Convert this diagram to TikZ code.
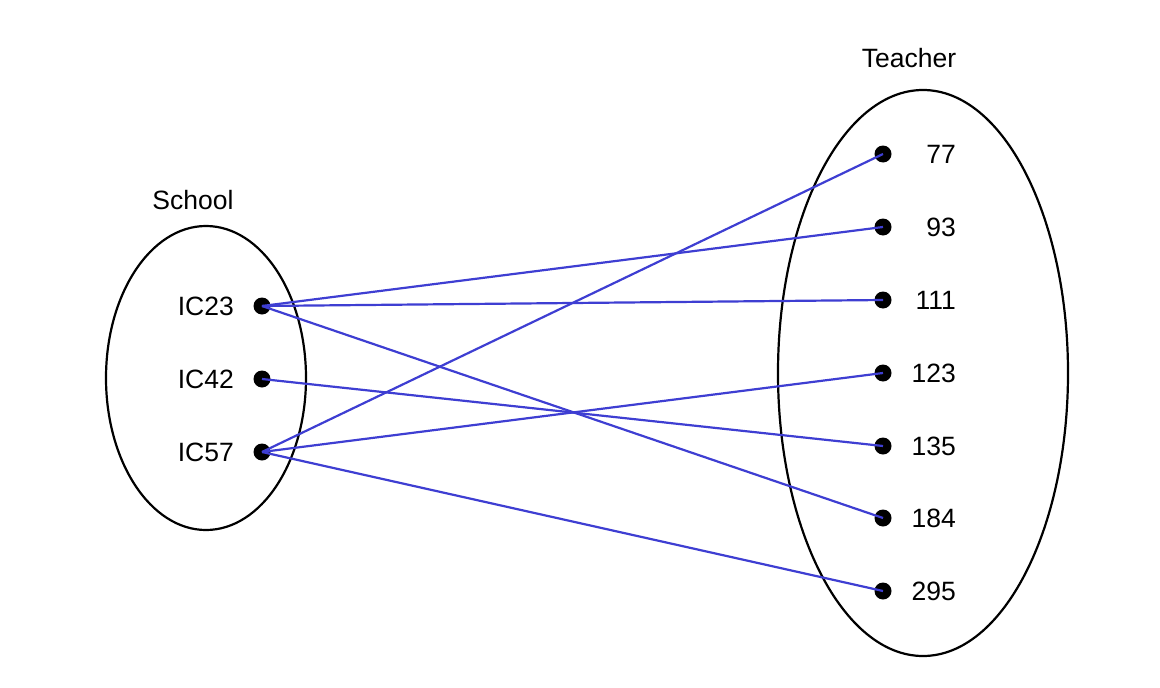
\documentclass[tikz,border=0pt]{standalone}
\usepackage{fontspec}
\setmainfont{Liberation Sans}
\definecolor{edgeblue}{RGB}{62,62,210}
\begin{document}
\begin{tikzpicture}[x=1pt,y=-1pt,
  setell/.style={draw=black,line width=2.2pt},
  dotnode/.style={circle,fill=black,minimum size=17pt,inner sep=0pt},
  lbl/.style={inner sep=0pt,font=\fontsize{26.5pt}{31pt}\selectfont},
  edge/.style={draw=edgeblue,line width=2.2pt}]
\useasboundingbox (0,0) rectangle (1160,688);
% sets
\draw[setell] (206,378) ellipse [x radius=100, y radius=152];
\draw[setell] (923,373) ellipse [x radius=145, y radius=283];
\node[lbl] (school) at (193,200) {School};
\node[lbl] (teacher) at (909,58) {Teacher};
% left
\node[dotnode] (d23) at (262,306) {};
\node[dotnode] (d42) at (262,379) {};
\node[dotnode] (d57) at (262,452) {};
\node[lbl,anchor=east] (l23) at (234,306) {IC23};
\node[lbl,anchor=east] (l42) at (234,379) {IC42};
\node[lbl,anchor=east] (l57) at (234,452) {IC57};
% right
\node[dotnode] (t77) at (883,154) {};
\node[dotnode] (t93) at (883,227) {};
\node[dotnode] (t111) at (883,300) {};
\node[dotnode] (t123) at (883,373) {};
\node[dotnode] (t135) at (883,446) {};
\node[dotnode] (t184) at (883,518) {};
\node[dotnode] (t295) at (883,591) {};
\node[lbl,anchor=east] (n77) at (956,154) {77};
\node[lbl,anchor=east] (n93) at (956,227) {93};
\node[lbl,anchor=east] (n111) at (956,300) {111};
\node[lbl,anchor=east] (n123) at (956,373) {123};
\node[lbl,anchor=east] (n135) at (956,446) {135};
\node[lbl,anchor=east] (n184) at (956,518) {184};
\node[lbl,anchor=east] (n295) at (956,591) {295};
% edges
\draw[edge] (d23.center) -- (t93.center);
\draw[edge] (d23.center) -- (t111.center);
\draw[edge] (d23.center) -- (t184.center);
\draw[edge] (d42.center) -- (t135.center);
\draw[edge] (d57.center) -- (t77.center);
\draw[edge] (d57.center) -- (t123.center);
\draw[edge] (d57.center) -- (t295.center);
\end{tikzpicture}
\end{document}
